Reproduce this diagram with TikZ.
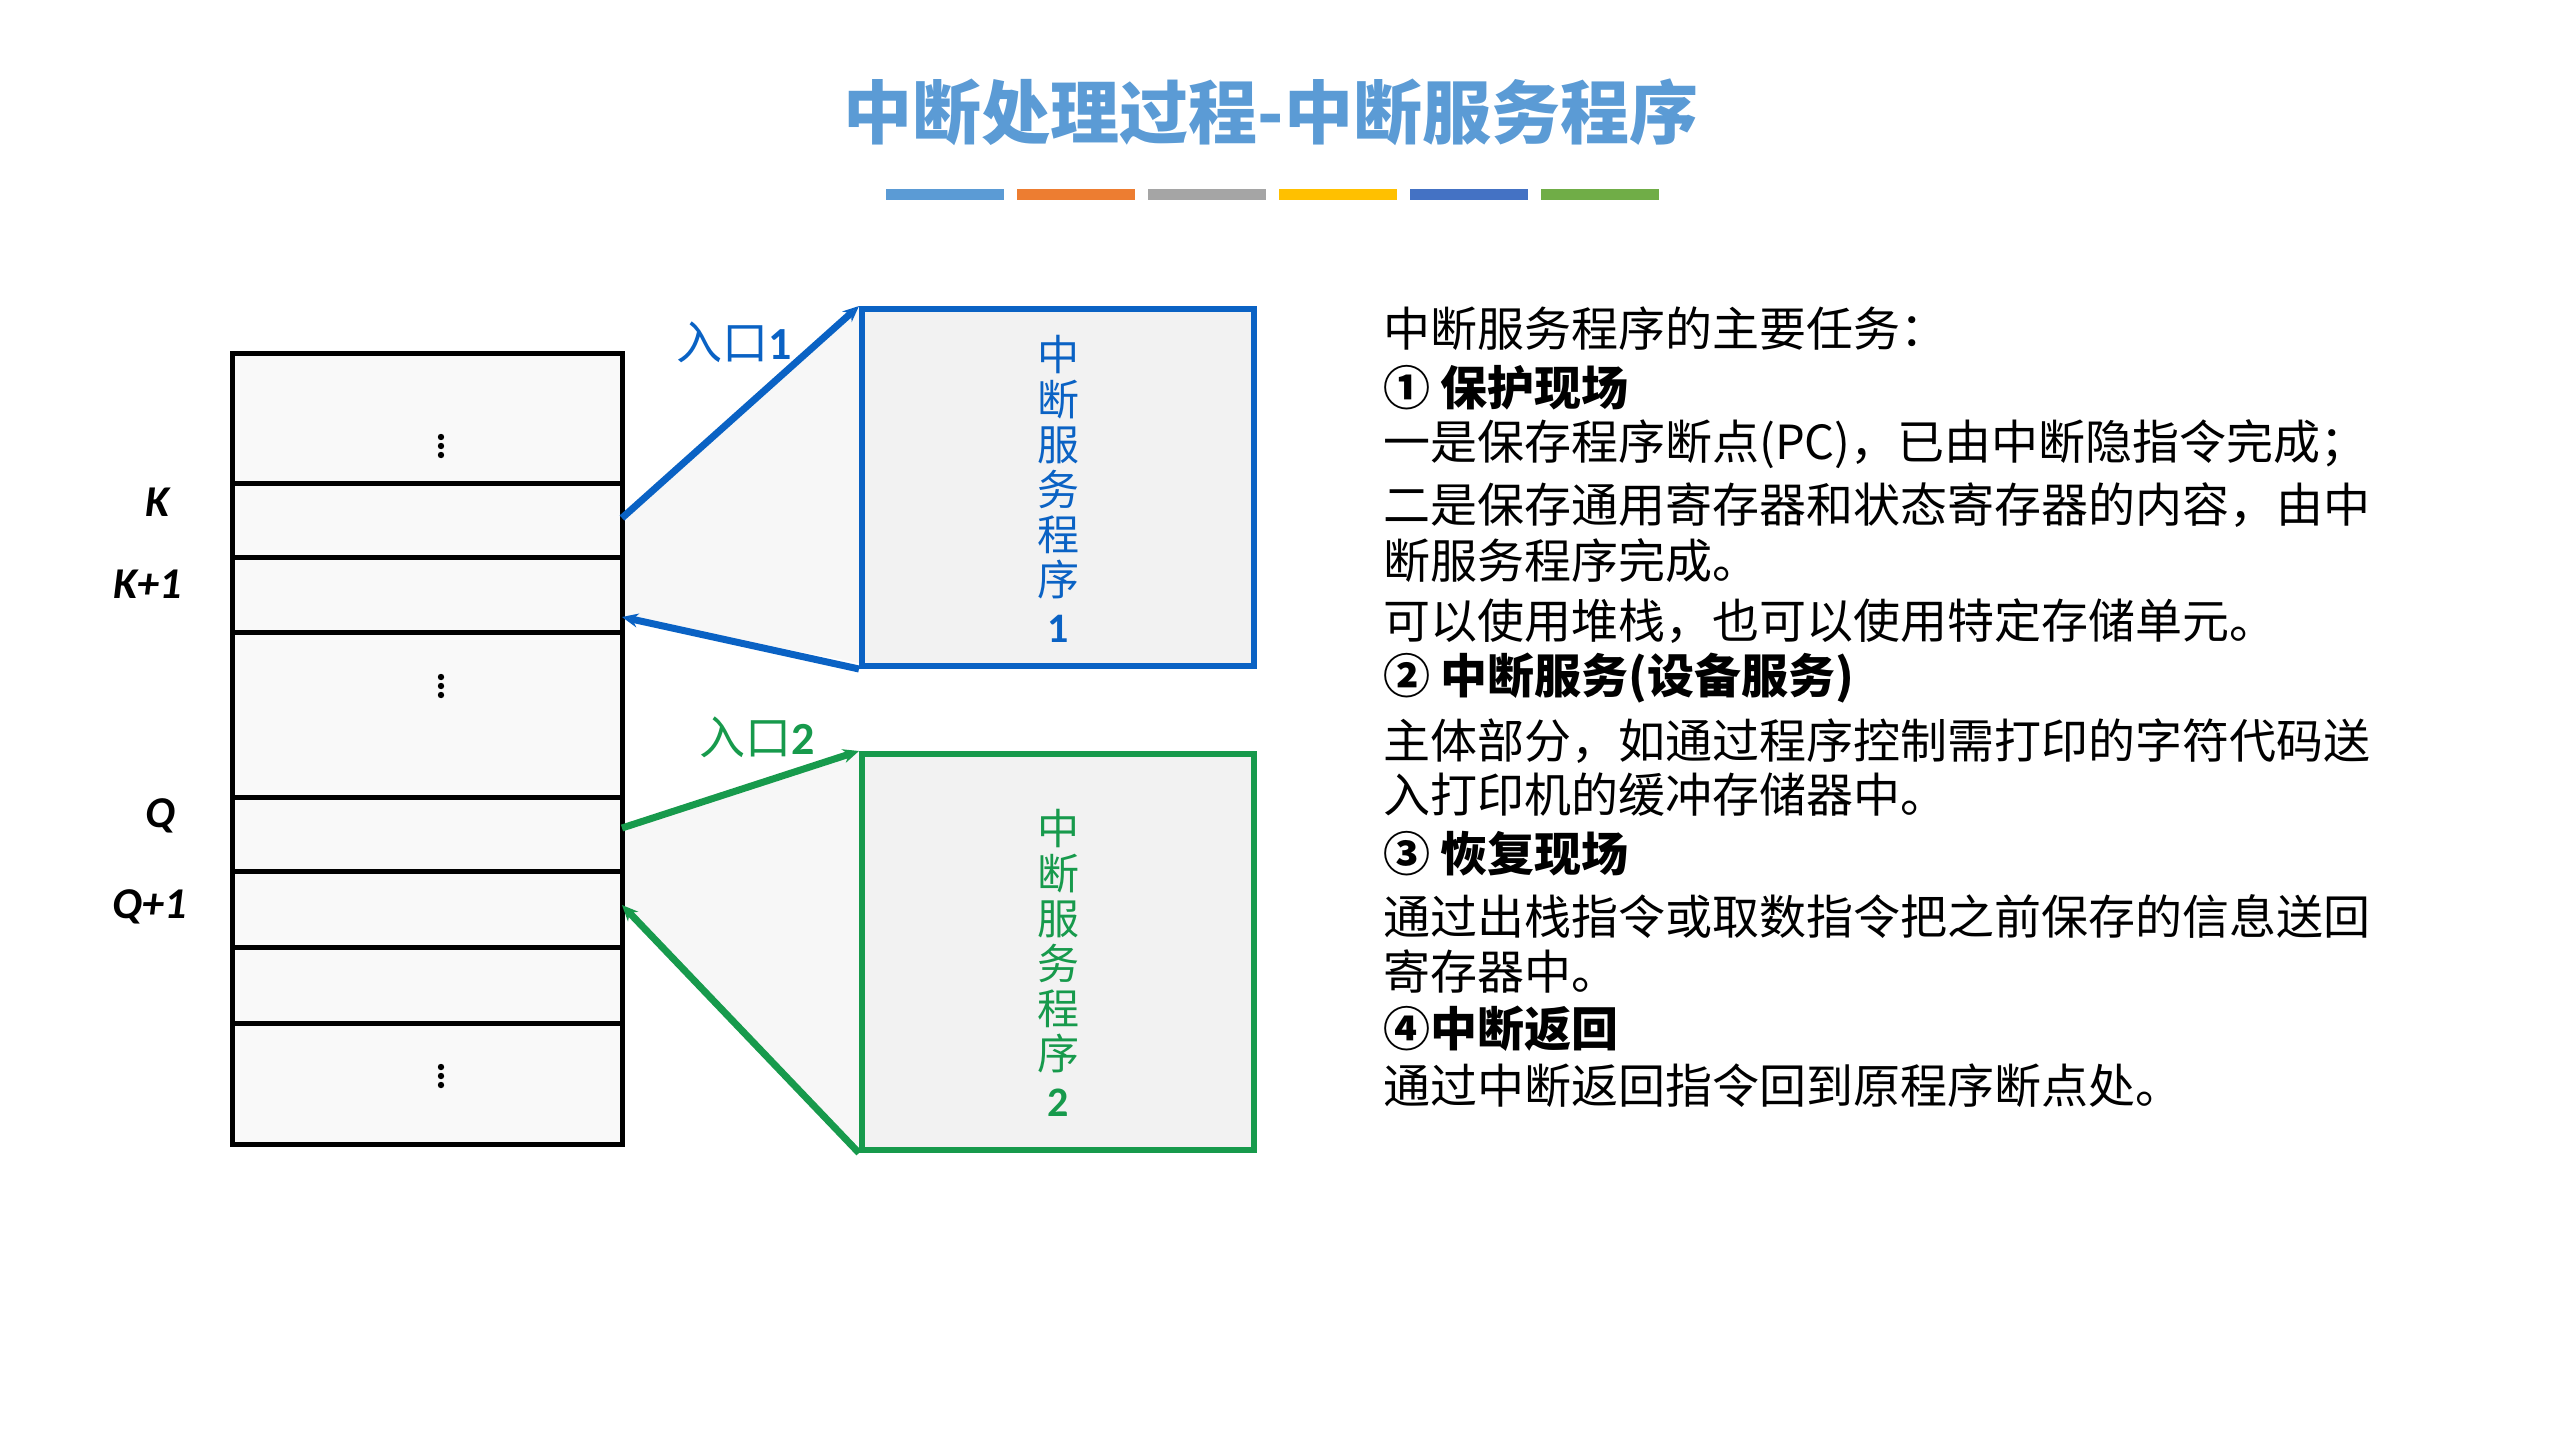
\documentclass[tikz,border=0pt]{standalone}
\usepackage{fontspec}
\usetikzlibrary{arrows.meta}
\setmainfont{Noto Sans CJK SC}
\newfontfamily\latf{Carlito}
\begin{document}
\begin{tikzpicture}[x=1pt,y=-1pt,
  cell/.style={draw=black,line width=5pt,fill=gray!5,minimum width=390pt,inner sep=0pt,anchor=north},
  prog/.style={line width=6pt,fill=gray!10,inner sep=0pt,anchor=north west},
  lab/.style={font=\latf\fontsize{44}{44}\selectfont\bfseries\itshape},
  ln/.style={anchor=west,inner sep=0pt,font=\fontsize{47}{47}\selectfont},
  bl/.style={ln,font=\fontsize{47}{47}\selectfont\bfseries},
  arr/.style={line width=7pt,-{Stealth[length=16pt,width=14pt,open]}},
  bar/.style={minimum width=118pt,minimum height=11pt,inner sep=0pt}]
\useasboundingbox (0,0) rectangle (2560,1440);
\definecolor{tblue}{HTML}{5B9BD5}
\definecolor{pblue}{HTML}{0A62C4}
\definecolor{pgreen}{HTML}{179A4C}
\node[font=\fontsize{69}{69}\selectfont\bfseries,text=tblue] (title) at (1271,112) {中断处理过程-中断服务程序};
\foreach \c [count=\i] in {5B9BD5,ED7D31,A5A5A5,FFC000,4472C4,70AD47}{
  \definecolor{bc}{HTML}{\c}
  \node[bar,fill=bc] (bar\i) at ({886+59+(\i-1)*131},194) {};}
% trapezoids
\fill[gray!6] (622,518) -- (859,306) -- (859,663) -- (622,617) -- cycle;
\fill[gray!6] (622,828) -- (859,751) -- (859,1147) -- (622,905) -- cycle;
% memory cells
\node[cell,minimum height=130pt] (c1) at (427,351) {};
\node[cell,minimum height=74pt] (c2) at (427,481) {};
\node[cell,minimum height=75pt] (c3) at (427,555) {};
\node[cell,minimum height=165pt] (c4) at (427,630) {};
\node[cell,minimum height=74pt] (c5) at (427,795) {};
\node[cell,minimum height=76pt] (c6) at (427,869) {};
\node[cell,minimum height=76pt] (c7) at (427,945) {};
\node[cell,minimum height=121pt] (c8) at (427,1021) {};
\foreach \n/\y in {d1/446,d2/686,d3/1076}{
  \node[inner sep=0pt] (\n) at (441,\y) {\tikz[x=1pt,y=1pt]{\foreach \k in {0,1,2}\fill (0,\k*9) circle (3.2pt);}};}
\node[lab] (lK) at (158,502) {K};
\node[lab] (lK1) at (148,584) {K+1};
\node[lab] (lQ) at (160,816) {Q};
\node[lab] (lQ1) at (150,907) {Q+1};
% programs
\node[prog,draw=pblue,minimum width=392pt,minimum height=357pt] (p1) at (859,306) {};
\node[prog,draw=pgreen,minimum width=392pt,minimum height=396pt] (p2) at (859,751) {};
\node[text=pblue,align=center,font=\fontsize{42}{45}\selectfont] (t1) at (1058,489) {中\\断\\服\\务\\程\\序\\[2pt]{\latf\bfseries 1}};
\node[text=pgreen,align=center,font=\fontsize{42}{45}\selectfont] (t2) at (1058,963) {中\\断\\服\\务\\程\\序\\[2pt]{\latf\bfseries 2}};
\coordinate (k) at (622,518); \coordinate (k1) at (622,617);
\coordinate (q) at (622,828); \coordinate (q1) at (622,905);
\draw[arr,pblue] (k) -- (p1.north west);
\draw[arr,pblue] (p1.south west) -- (k1);
\draw[arr,pgreen] (q) -- (p2.north west);
\draw[arr,pgreen] (p2.south west) -- (q1);
\node[text=pblue,font=\fontsize{46}{46}\selectfont] (e1) at (734,342) {入口{\latf\bfseries 1}};
\node[text=pgreen,font=\fontsize{46}{46}\selectfont] (e2) at (757,737) {入口{\latf\bfseries 2}};
% right text
\node[ln] (r1) at (1383,329) {中断服务程序的主要任务：};
\node[bl] (r2) at (1383,388) {① 保护现场};
\node[ln] (r3) at (1383,444) {一是保存程序断点(PC)，已由中断隐指令完成；};
\node[ln] (r4) at (1383,505) {二是保存通用寄存器和状态寄存器的内容，由中};
\node[ln] (r5) at (1383,561) {断服务程序完成。};
\node[ln] (r6) at (1383,621) {可以使用堆栈，也可以使用特定存储单元。};
\node[bl] (r7) at (1383,678) {② 中断服务(设备服务)};
\node[ln] (r8) at (1383,741) {主体部分，如通过程序控制需打印的字符代码送};
\node[ln] (r9) at (1383,795) {入打印机的缓冲存储器中。};
\node[bl] (r10) at (1383,854) {③ 恢复现场};
\node[ln] (r11) at (1383,917) {通过出栈指令或取数指令把之前保存的信息送回};
\node[ln] (r12) at (1383,971) {寄存器中。};
\node[bl] (r13) at (1383,1029) {④中断返回};
\node[ln] (r14) at (1383,1086) {通过中断返回指令回到原程序断点处。};
\end{tikzpicture}
\end{document}
